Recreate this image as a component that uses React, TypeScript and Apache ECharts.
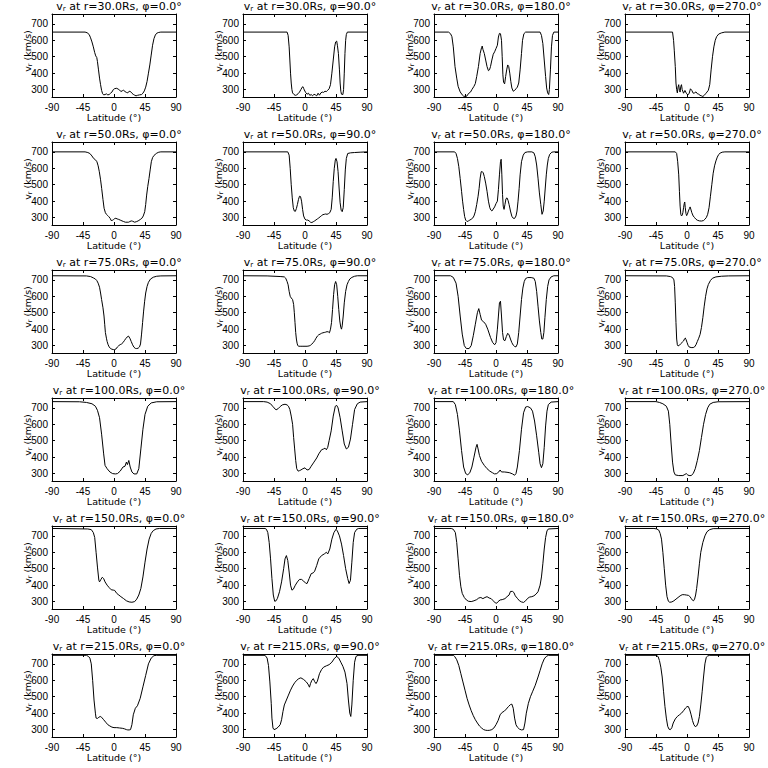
import React, { useEffect, useRef } from "react";
import * as echarts from "echarts";

const radii = ["30.0", "50.0", "75.0", "100.0", "150.0", "215.0"];
const phis = ["0.0", "90.0", "180.0", "270.0"];
const latTicks = [-90, -45, 0, 45, 90];
const vTicks = [300, 400, 500, 600, 700];
const vMin = 255;
const vMax = 760;

const r30_phi0 = [[-90,650],[-42,650],[-39,646],[-36,635],[-34,615],[-32,590],[-30,560],[-28,525],[-26.5,505],[-25,495],[-24,470],[-22.5,420],[-21,370],[-19.5,330],[-18,295],[-16.5,275],[-15,268],[-13,270],[-11,274],[-9,268],[-7,270],[-5,278],[-3,285],[-1,300],[1,306],[4,308],[6,303],[8,298],[10,288],[12,293],[14,296],[16,288],[18,283],[20,280],[22,290],[24,288],[26,278],[28,271],[30,266],[32,262],[34,265],[37,268],[40,270],[42,278],[44,292],[46,315],[48,350],[50,400],[52,450],[54,510],[56,570],[58,610],[60,632],[62,643],[65,648],[68,650],[90,650]];
const r30_phi90 = [[-90,650],[-26,650],[-24.5,630],[-23,560],[-22,480],[-21,400],[-20,340],[-19,300],[-18,280],[-16,270],[-14,265],[-12,268],[-10,275],[-8,285],[-6,300],[-4,315],[-3,318],[-2,308],[-1,298],[1,282],[3,272],[5,278],[7,265],[9,270],[11,262],[13,272],[15,268],[17,262],[19,278],[21,266],[23,280],[25,285],[27,283],[29,290],[31,288],[33,296],[35,305],[37,330],[39,400],[41,480],[43,560],[44.5,590],[46,595],[47,570],[48.5,520],[50,420],[51,340],[52,290],[53,272],[55,270],[56,300],[57,400],[58,520],[59,600],[60,635],[61.5,650],[90,650]];
const r30_phi180 = [[-90,650],[-69,650],[-66,640],[-64,622],[-62,560],[-59.5,440],[-57,370],[-55,320],[-52,286],[-49,268],[-47,260],[-44,258],[-42,262],[-40,276],[-37,285],[-35,300],[-32,320],[-30,337],[-28,380],[-25.5,440],[-23,520],[-21,555],[-20,565],[-19,545],[-17,520],[-15,480],[-13,440],[-11,415],[-9.5,420],[-8,440],[-6,480],[-4,515],[-2,530],[0,550],[2,570],[3.5,620],[5,642],[6.5,640],[8,600],[9,500],[10,390],[11,345],[12.5,335],[14,380],[15.5,420],[17,450],[18.5,440],[20,400],[21.5,350],[23,310],[25,290],[27,295],[29,305],[31,315],[33,340],[35,420],[37,520],[38.5,600],[40.5,640],[43,650],[64,650],[66,630],[68,580],[70,480],[72,380],[73.5,310],[75,280],[76.5,270],[77.5,300],[79,420],[80.5,560],[82,630],[84,650],[90,650]];
const r30_phi270 = [[-90,650],[-21,650],[-19.5,600],[-18.5,540],[-17,440],[-16,340],[-15,300],[-14,280],[-13,315],[-12,330],[-11,295],[-10,285],[-9,320],[-8,330],[-7,300],[-5,278],[-3,295],[-1,278],[1,268],[3,275],[5,305],[7,295],[9,278],[11,280],[13,286],[15,275],[17,272],[19,265],[21,262],[23,258],[25,265],[27,275],[29,285],[31,296],[33,330],[35,420],[37,500],[39,560],[41,600],[43,622],[46,638],[50,645],[55,650],[90,650]];

const r50_phi0 = [[-90,700],[-42,700],[-38,696],[-35,690],[-32,675],[-29.6,660],[-27,652],[-24.8,640],[-23,615],[-21.3,579],[-19.5,530],[-17.9,478],[-16,410],[-14.4,357],[-12.5,330],[-11,320],[-9,312],[-7.6,306],[-5.5,295],[-4.1,282],[-2,284],[-0.7,288],[1,294],[2.7,296],[4.5,292],[6.2,290],[9,285],[11.6,280],[14,276],[16.5,272],[19,272],[21,272],[23,276],[25,280],[27,278],[30,272],[33,276],[35,280],[38,288],[40.5,296],[42.5,310],[44.6,336],[46,380],[47.4,437],[49,490],[50.8,538],[52.5,590],[54.2,640],[56,665],[58,678],[59.7,684],[62,692],[65,698],[68,700],[90,700]];
const r50_phi90 = [[-90,700],[-25,700],[-23,680],[-21.5,600],[-20,500],[-18.5,420],[-17,360],[-15.5,340],[-14,338],[-12.5,355],[-11,380],[-9.5,410],[-8,430],[-6.5,428],[-5,400],[-3.5,350],[-2,310],[0,290],[2,285],[4,285],[6,280],[8,272],[10,270],[12,275],[14,280],[16,286],[18,292],[20,298],[22,305],[24,312],[26,318],[28,320],[30,322],[32,320],[34,324],[36,330],[38,350],[39.5,420],[41,520],[42.5,600],[44,650],[45,660],[46.5,640],[48,580],[49.5,480],[51,390],[52.5,345],[54,336],[55.5,360],[57,470],[58.5,590],[60,660],[62,690],[66,694],[72,696],[80,698],[90,700]];
const r50_phi180 = [[-90,700],[-60,700],[-58,690],[-56,660],[-54,610],[-52,538],[-50,460],[-48.5,400],[-47,350],[-45.5,306],[-44,285],[-42,276],[-40,280],[-38,285],[-36,290],[-34,296],[-32,310],[-30,336],[-28,380],[-26,430],[-24.5,478],[-23,540],[-21.5,579],[-20,580],[-18.5,572],[-17,550],[-15,510],[-13,460],[-11,400],[-9,360],[-7.5,346],[-6,340],[-4,352],[-2,365],[0,385],[2,400],[3.5,470],[5,560],[6.5,640],[7.5,655],[8.5,560],[9.5,440],[10.5,370],[11.7,350],[13,380],[14.5,415],[16,420],[17.5,405],[19,380],[21,340],[23,308],[25,296],[27,295],[29,310],[30.5,340],[32,400],[33.6,478],[35,560],[37,640],[39.5,680],[42,696],[46,700],[52,700],[55,694],[57,670],[59,620],[61,540],[63,450],[65,380],[66.8,320],[68.5,340],[70,400],[71.5,480],[73,560],[74.5,620],[76,660],[78,685],[81,698],[84,700],[90,700]];
const r50_phi270 = [[-90,700],[-17,700],[-15,690],[-13.5,640],[-12,560],[-11,460],[-10,370],[-9,320],[-8,310],[-7,315],[-6,330],[-5,360],[-4,385],[-3.3,395],[-2.5,360],[-1.5,325],[-0.5,312],[0.5,320],[2,340],[3.5,355],[4.5,365],[5.5,352],[7,330],[9,310],[11,300],[13,290],[15,284],[18,280],[21,279],[24,282],[26,290],[28,300],[30,320],[32,360],[34,430],[36,500],[38,570],[40,615],[42,645],[44,668],[46,684],[48,692],[51,698],[55,700],[90,700]];

const r75_phi0 = [[-90,725],[-40,724],[-34,720],[-30,712],[-27,705],[-25,696],[-23,680],[-21,655],[-19.5,620],[-18,580],[-16,530],[-14.5,480],[-13.5,430],[-12.5,380],[-11,345],[-10,325],[-8.5,305],[-7,292],[-5,282],[-3,278],[-1,276],[1,276],[3,280],[5,292],[7,300],[9,306],[11,310],[13,318],[15,330],[17,342],[19,352],[21,358],[23,345],[25,325],[27,305],[29,290],[31,283],[33,282],[35,284],[37,292],[38.5,310],[40,370],[41.5,440],[43,510],[44.5,570],[46,620],[48,660],[50,685],[53,705],[57,716],[62,722],[68,724],[90,725]];
const r75_phi90 = [[-90,725],[-55,724],[-45,722],[-35,720],[-30,718],[-28,710],[-26,690],[-24.5,670],[-23,630],[-21.5,600],[-20,590],[-18,580],[-16.5,550],[-15.5,500],[-14.5,440],[-13.5,380],[-12.5,340],[-11.5,315],[-10.5,300],[-9,296],[-6,296],[-3,296],[0,296],[3,296],[6,298],[8,302],[10,310],[12,318],[14,330],[16,345],[18,358],[20,366],[22,370],[24,375],[26,378],[28,380],[30,382],[32,385],[34,383],[35.5,378],[37,400],[38.5,440],[40,520],[41.5,610],[43,670],[44.5,690],[46,670],[47.5,600],[49,520],[50.5,450],[52,410],[53,400],[54,420],[55.5,480],[57,560],[59,630],[61,670],[63,690],[65,705],[68,715],[72,722],[76,725],[90,725]];
const r75_phi180 = [[-90,725],[-66,725],[-62,715],[-58,680],[-55,600],[-52,480],[-49,370],[-46,300],[-43,282],[-39,282],[-36,300],[-33,360],[-30,430],[-27,500],[-25,525],[-23,490],[-21,455],[-18,445],[-15,430],[-12,400],[-8,350],[-5,320],[-2,305],[0,318],[2,400],[3.5,480],[5,560],[6.5,570],[8,480],[9.5,380],[11,335],[13,330],[15,355],[17,375],[19,365],[21,340],[23,318],[25,303],[27,295],[29,292],[31,310],[33,380],[35,480],[37,580],[39,650],[41,690],[43,708],[46,714],[51,714],[55,710],[57,690],[59,630],[61,540],[63,450],[65,380],[66.5,340],[68,340],[69.5,380],[71,470],[73,580],[75,660],[77,700],[80,718],[84,725],[90,725]];
const r75_phi270 = [[-90,725],[-30,724],[-24,720],[-21,714],[-19,700],[-18,660],[-17,560],[-16,440],[-15,340],[-14,305],[-13,298],[-11,302],[-9,312],[-7,320],[-5,328],[-3.5,342],[-2.5,346],[-1.5,338],[0,320],[1.5,302],[3,292],[6,288],[9,288],[11,292],[13,305],[15,325],[17,345],[19,368],[21,410],[23,470],[25,540],[27,600],[29,645],[31,672],[34,696],[37,710],[42,718],[50,722],[60,724],[90,725]];

const r100_phi0 = [[-90,738],[-50,737],[-40,733],[-32,725],[-27,710],[-24,685],[-21,640],[-18,540],[-15,420],[-13,350],[-10,330],[-6,310],[-2,300],[2,298],[5,300],[9,315],[13,340],[16,345],[18,370],[19.5,355],[21.5,380],[23.5,340],[26,310],[29,298],[33,298],[36,330],[39,450],[42,570],[45,660],[49,710],[54,730],[62,737],[90,738]];
const r100_phi90 = [[-90,738],[-60,738],[-55,735],[-50,725],[-47,710],[-45,700],[-42,688],[-39,695],[-36,708],[-33,718],[-29,722],[-26,718],[-24,710],[-22,690],[-20,650],[-18,600],[-16.5,520],[-15,450],[-13.5,380],[-12,330],[-10,315],[-8,318],[-6,322],[-3,330],[0,335],[3,322],[6,325],[9,345],[13,370],[17,395],[20,420],[24,445],[27,450],[29,455],[31,445],[33,460],[35,500],[38,560],[41,650],[44,710],[46,715],[48,700],[51,640],[54,560],[57,480],[60,450],[63,460],[66,510],[69,600],[72,690],[76,725],[80,735],[90,738]];
const r100_phi180 = [[-90,738],[-62,738],[-59,720],[-56,660],[-53,560],[-50,440],[-47,340],[-44,300],[-41,293],[-38,305],[-35,340],[-32,400],[-29,460],[-27.5,478],[-26,450],[-24,410],[-21,375],[-17,350],[-13,330],[-9,315],[-5,305],[-2,298],[1,300],[4,310],[6,322],[8,310],[12,310],[16,308],[20,305],[24,298],[27,290],[29,300],[31,340],[34,440],[37,570],[40,670],[43,705],[46,708],[50,700],[53,680],[56,620],[59,530],[62,430],[64,360],[66,336],[68,360],[70,460],[72,590],[74,680],[76,720],[80,735],[90,738]];
const r100_phi270 = [[-90,738],[-45,738],[-40,733],[-35,725],[-30,710],[-27,680],[-25,600],[-23,480],[-21,370],[-19,310],[-17,292],[-12,288],[-6,288],[-3,295],[-1,300],[1,292],[3,288],[6,288],[9,300],[12,330],[15,380],[18,440],[21,520],[24,600],[27,660],[30,700],[33,722],[38,733],[45,737],[90,738]];

const r150_phi0 = [[-90,745],[-38,742],[-33,738],[-30,720],[-28,690],[-26,600],[-24,510],[-22,430],[-21,420],[-19,435],[-17,448],[-15,440],[-13,420],[-10,400],[-7,385],[-4,372],[-1,370],[1,368],[4,350],[7,340],[10,330],[14,318],[18,305],[22,298],[26,296],[30,300],[33,315],[36,340],[39,380],[42,450],[45,540],[48,620],[51,680],[54,715],[57,732],[61,742],[66,745],[90,745]];
const r150_phi90 = [[-90,745],[-58,745],[-56,740],[-54,720],[-52,660],[-50,560],[-48,440],[-46,340],[-44,302],[-42,305],[-40,320],[-37,360],[-34,420],[-31,500],[-29,560],[-27,580],[-25,550],[-23,480],[-21,400],[-19,370],[-17,375],[-14,400],[-11,420],[-8,435],[-5,435],[-2,425],[1,412],[3,410],[6,440],[9,470],[12,475],[14,485],[17,520],[20,560],[24,580],[28,590],[31,600],[33,590],[36,620],[39,680],[42,720],[45,740],[47,730],[50,700],[53,650],[56,580],[59,500],[62,440],[64,410],[66,430],[68,540],[70,660],[72,720],[75,740],[78,745],[90,745]];
const r150_phi180 = [[-90,745],[-65,745],[-62,740],[-59,720],[-57,660],[-55,560],[-53,460],[-51,390],[-49,350],[-46,325],[-43,310],[-40,302],[-36,300],[-32,305],[-28,312],[-25,322],[-22,325],[-19,318],[-16,325],[-13,330],[-10,322],[-7,318],[-4,305],[-1,292],[1,290],[3,300],[6,310],[9,312],[13,318],[16,330],[19,340],[21,362],[24,362],[26,355],[28,335],[31,320],[34,305],[37,298],[40,295],[43,305],[46,320],[49,328],[52,330],[55,335],[58,345],[61,360],[64,400],[66,450],[68,530],[70,620],[72,690],[74,730],[76,742],[90,745]];
const r150_phi270 = [[-90,745],[-48,745],[-44,742],[-41,735],[-39,715],[-37,680],[-35,600],[-33,500],[-31,400],[-29,330],[-27,302],[-25,296],[-22,298],[-19,305],[-16,315],[-13,325],[-10,335],[-7,342],[-4,342],[-1,340],[2,338],[4,332],[6,320],[8,308],[9.5,305],[11,315],[12.5,340],[14,380],[16,450],[18,530],[20,600],[23,660],[26,700],[29,725],[33,738],[38,744],[90,745]];

const r215_phi0 = [[-90,752],[-40,752],[-37,745],[-35,735],[-33,700],[-31,600],[-29,480],[-27,400],[-26,370],[-24,368],[-22,375],[-20,380],[-18,375],[-15,360],[-12,345],[-9,330],[-6,322],[-3,315],[0,312],[4,312],[8,310],[12,308],[15,305],[18,300],[20,298],[22,298],[24,300],[26,330],[28,390],[31,430],[34,445],[38,490],[42,560],[46,630],[50,700],[54,735],[58,750],[62,752],[90,752]];
const r215_phi90 = [[-90,752],[-58,752],[-55,735],[-53,690],[-51,590],[-49,460],[-48,370],[-46.5,310],[-45,300],[-42,305],[-39,315],[-36,330],[-34,360],[-32,410],[-30,450],[-27,480],[-24,510],[-21,540],[-18,565],[-15,585],[-12,600],[-9,610],[-6,615],[-2,605],[2,590],[5,572],[6.5,558],[8,580],[10,600],[12,610],[14,592],[16,580],[18,595],[21,640],[24,665],[27,680],[31,688],[35,695],[39,710],[43,735],[46,745],[49,735],[52,710],[55,685],[58,650],[61,580],[63,480],[65,400],[66.5,380],[68,450],[70,600],[72,710],[74,745],[77,752],[90,752]];
const r215_phi180 = [[-90,752],[-62,752],[-60,745],[-57,725],[-54,690],[-51,640],[-48,590],[-45,540],[-42,490],[-39,450],[-36,415],[-33,385],[-30,360],[-27,340],[-24,322],[-21,310],[-18,300],[-15,296],[-12,295],[-9,296],[-6,300],[-3,310],[0,330],[3,355],[6,390],[9,405],[12,412],[15,425],[18,440],[21,452],[23,455],[25,430],[27,370],[29,330],[31,315],[34,303],[37,298],[40,300],[42,340],[44,400],[47,460],[50,500],[53,530],[57,570],[61,620],[64,660],[67,700],[70,730],[73,745],[76,752],[90,752]];
const r215_phi270 = [[-90,752],[-45,752],[-42,745],[-40,720],[-38,680],[-36,620],[-34,530],[-32,440],[-30,370],[-28,320],[-26,302],[-24,300],[-22,312],[-20,340],[-17,365],[-14,380],[-11,390],[-8,400],[-5,415],[-2,432],[0,440],[2,440],[4,420],[6,390],[8,355],[10,330],[12,318],[14,322],[16,340],[18,380],[20,450],[22,530],[24,620],[26,700],[28,740],[30,748],[33,752],[90,752]];

const panels = [
  [r30_phi0, r30_phi90, r30_phi180, r30_phi270],
  [r50_phi0, r50_phi90, r50_phi180, r50_phi270],
  [r75_phi0, r75_phi90, r75_phi180, r75_phi270],
  [r100_phi0, r100_phi90, r100_phi180, r100_phi270],
  [r150_phi0, r150_phi90, r150_phi180, r150_phi270],
  [r215_phi0, r215_phi90, r215_phi180, r215_phi270],
];

const FONT = "DejaVu Sans";
const TICK_FONT = "'Liberation Sans Narrow', 'Liberation Sans'";
const COL_LEFT = 52;
const COL_STEP = 191;
const ROW_TOP = 14;
const ROW_STEP = 128;
const PW = 124;
const PH = 83;

function buildOption() {
  const grid: any[] = [];
  const xAxis: any[] = [];
  const yAxis: any[] = [];
  const series: any[] = [];
  const graphic: any[] = [];
  const line = { show: true, onZero: false, lineStyle: { color: "#000", width: 1 } };
  const tick = { show: true, inside: true, length: 3, lineStyle: { color: "#000", width: 1 } };
  const label = { color: "#000", fontSize: 10, fontFamily: TICK_FONT };
  const titleRich = {
    a: { fontSize: 11, fontFamily: FONT, fill: "#000", lineHeight: 13 },
    b: { fontSize: 7, fontFamily: FONT, fill: "#000", lineHeight: 5, verticalAlign: "bottom" },
  };
  const nameRich = {
    a: { fontSize: 9.5, fontFamily: FONT, fill: "#000", lineHeight: 12 },
    b: { fontSize: 6.5, fontFamily: FONT, fill: "#000", lineHeight: 5, verticalAlign: "bottom" },
  };
  let i = 0;
  for (let r = 0; r < panels.length; r++) {
    for (let c = 0; c < panels[r].length; c++) {
      const left = COL_LEFT + COL_STEP * c;
      const top = ROW_TOP + ROW_STEP * r;
      grid.push({ left, top, width: PW, height: PH, containLabel: false });
      xAxis.push({
        gridIndex: i, type: "value", position: "bottom", min: latTicks[0], max: latTicks[latTicks.length - 1], interval: 45,
        axisLine: line, axisTick: tick, splitLine: { show: false },
        axisLabel: { ...label, margin: 5, showMinLabel: true, showMaxLabel: true },
      });
      xAxis.push({
        gridIndex: i, type: "value", position: "top", min: latTicks[0], max: latTicks[latTicks.length - 1], interval: 45,
        axisLine: line, axisTick: tick, splitLine: { show: false }, axisLabel: { show: false },
      });
      yAxis.push({
        gridIndex: i, type: "value", position: "left", min: vMin, max: vMax,
        axisLine: line, axisTick: { ...tick, customValues: vTicks }, splitLine: { show: false },
        axisLabel: { ...label, margin: 4, customValues: vTicks },
      });
      yAxis.push({
        gridIndex: i, type: "value", position: "right", min: vMin, max: vMax,
        axisLine: line, axisTick: { ...tick, customValues: vTicks }, splitLine: { show: false },
        axisLabel: { show: false },
      });
      series.push({
        type: "line", xAxisIndex: 2 * i, yAxisIndex: 2 * i, data: panels[r][c],
        symbol: "none", showSymbol: false, silent: true, clip: true,
        lineStyle: { color: "#000", width: 1 },
      });
      graphic.push({
        type: "text", x: left + 67, y: top - 8, silent: true,
        style: {
          text: `{a|v}{b|r}{a| at r=${radii[r]}Rs, φ=${phis[c]}°}`,
          rich: titleRich, align: "center", verticalAlign: "middle", fill: "#000",
        },
      });
      graphic.push({
        type: "text", x: left + PW / 2, y: top + PH + 20, silent: true,
        style: { text: "Latitude (°)", font: `9.5px "${FONT}"`, fill: "#000", align: "center", verticalAlign: "middle" },
      });
      graphic.push({
        type: "text", x: left - 25, y: top + 37, rotation: Math.PI / 2, silent: true,
        style: {
          text: "{a|v}{b|r}{a| (km/s)}",
          rich: nameRich, align: "center", verticalAlign: "middle", fill: "#000",
        },
      });
      i++;
    }
  }
  return { animation: false, backgroundColor: "#fff", grid, xAxis, yAxis, series, graphic };
}

export default function App() {
  const ref = useRef<HTMLDivElement>(null);
  useEffect(() => {
    if (!ref.current) return;
    const chart = echarts.init(ref.current, null, { renderer: "svg" });
    chart.setOption(buildOption() as any);
    return () => chart.dispose();
  }, []);
  return (
    <div
      ref={ref}
      style={{ position: "absolute", left: 0, top: 0, width: 768, height: 768, background: "#fff" }}
    />
  );
}
